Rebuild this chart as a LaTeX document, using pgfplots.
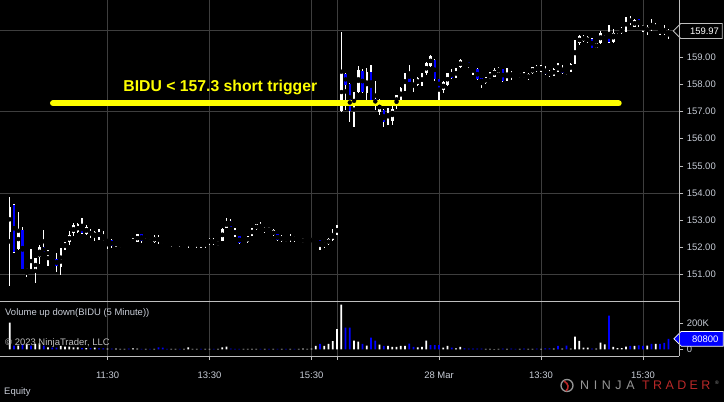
\documentclass[border=0pt]{standalone}
\usepackage{pgfplots}
\pgfplotsset{compat=1.18}
\usepackage{pgfplotstable}
\usepackage{fontspec}
\setmainfont{Liberation Sans}
\usetikzlibrary{shapes.symbols}

\definecolor{ntblue}{RGB}{0,0,255}
\definecolor{ntgrid}{RGB}{62,62,62}
\definecolor{ntaxis}{RGB}{190,190,190}
\definecolor{nttext}{RGB}{200,205,215}
\definecolor{ntyellow}{RGB}{255,255,0}
\definecolor{ntred}{RGB}{185,40,40}
\definecolor{ntgray}{RGB}{150,150,150}

% BIDU 5-minute bars, two sessions (bar index k, open high low close)
\pgfplotstableread{
k o h l c
0 152.57 153.86 150.57 153.49
1 153.56 153.60 151.80 151.84
2 151.93 153.31 151.90 152.67
3 152.63 152.76 151.18 151.20
4 151.10 151.22 150.90 151.22
5 151.16 151.92 151.06 151.08
6 151.10 151.59 150.67 151.59
7 151.65 152.08 151.38 152.02
8 152.00 152.63 151.81 151.83
9 151.71 151.90 151.30 151.86
10 151.70 151.71 151.62 151.65
11 151.55 151.80 151.10 151.31
12 151.28 151.96 150.98 151.96
13 151.99 152.20 151.90 152.17
14 152.20 152.58 152.08 152.45
15 152.51 152.88 152.41 152.82
16 152.57 152.90 152.51 152.84
17 152.82 153.08 152.50 152.51
18 152.49 152.82 152.45 152.73
19 152.60 152.66 152.35 152.45
20 152.36 152.60 152.24 152.57
21 152.56 152.67 152.27 152.38
22 152.36 152.58 152.23 152.27
23 152.20 152.29 151.93 152.27
24 152.27 152.29 151.99 152.04
25 152.08 152.20 152.02 152.18
26 152.07 152.14 151.96 152.12
27 152.12 152.20 152.10 152.19
28 152.23 152.27 152.12 152.17
29 152.17 152.33 152.14 152.29
30 152.20 152.49 152.18 152.47
31 152.49 152.50 152.14 152.24
32 152.19 152.33 152.18 152.27
33 152.25 152.29 152.14 152.20
34 152.20 152.45 152.14 152.39
35 152.35 152.45 152.12 152.24
36 152.18 152.27 152.12 152.24
37 152.20 152.22 152.11 152.14
38 152.08 152.20 152.02 152.17
39 152.14 152.24 152.08 152.23
40 152.19 152.20 152.02 152.14
41 152.12 152.24 152.08 152.20
42 152.17 152.23 151.99 152.23
43 152.11 152.20 152.08 152.18
44 152.08 152.20 151.99 152.18
45 152.15 152.17 151.99 152.07
46 152.07 152.20 151.99 152.17
47 152.17 152.35 152.08 152.29
48 152.27 152.33 152.07 152.17
49 152.08 152.23 152.04 152.20
50 152.24 152.70 152.23 152.66
51 152.72 153.06 152.72 152.94
52 152.97 153.03 152.73 152.73
53 152.63 152.70 152.39 152.45
54 152.41 152.41 152.12 152.14
55 152.13 152.24 152.12 152.23
56 152.18 152.42 152.17 152.41
57 152.45 152.72 152.41 152.67
58 152.66 152.87 152.63 152.85
59 152.76 152.94 152.63 152.63
60 152.57 152.75 152.53 152.72
61 152.72 152.76 152.55 152.57
62 152.44 152.66 152.41 152.63
63 152.47 152.49 152.23 152.27
64 152.24 152.45 152.20 152.39
65 152.33 152.35 152.20 152.27
66 152.27 152.47 152.20 152.39
67 152.39 152.42 152.20 152.27
68 152.24 152.35 152.20 152.33
69 152.20 152.33 152.17 152.29
70 152.20 152.29 152.17 152.27
71 152.20 152.35 152.18 152.33
72 152.20 152.29 152.18 152.27
73 152.27 152.27 151.90 152.06
74 152.04 152.20 151.99 152.17
75 152.12 152.33 152.08 152.29
76 152.27 152.66 152.24 152.51
77 152.47 152.82 152.45 152.76
78 157.03 159.94 157.00 158.41
79 158.39 158.43 157.06 157.98
80 158.02 158.04 156.63 157.03
81 157.06 157.73 156.42 157.73
82 157.73 158.68 157.70 158.53
83 158.51 158.56 157.70 157.73
84 157.67 158.59 157.43 158.47
85 158.47 158.72 157.43 157.43
86 157.45 158.12 157.06 157.30
87 157.00 157.45 156.87 157.35
88 157.05 157.10 156.42 156.60
89 156.70 157.15 156.50 157.05
90 156.65 157.40 156.50 157.10
91 157.30 157.62 157.10 157.60
92 157.40 157.92 157.40 157.86
93 157.86 158.41 157.77 158.38
94 158.47 158.72 158.10 158.10
95 158.07 158.19 157.73 157.92
96 157.98 158.26 157.95 158.23
97 157.98 158.41 157.95 158.38
98 158.41 158.84 158.35 158.78
99 158.68 159.08 158.66 159.05
100 158.90 158.93 158.14 158.19
101 158.19 158.19 157.43 157.86
102 157.80 158.14 157.70 158.10
103 157.98 158.43 157.95 158.41
104 158.47 158.56 158.20 158.23
105 158.26 158.59 158.23 158.56
106 158.63 158.93 158.60 158.90
107 158.90 158.93 158.78 158.80
108 158.81 158.84 158.59 158.66
109 158.53 158.66 158.35 158.63
110 158.56 158.59 158.16 158.19
111 158.23 158.23 157.88 158.04
112 158.04 158.29 158.02 158.26
113 158.23 158.47 158.19 158.35
114 158.29 158.59 158.27 158.53
115 158.43 158.66 158.41 158.59
116 158.56 158.58 158.10 158.14
117 158.14 158.59 158.14 158.47
118 158.41 158.49 158.16 158.33
119 158.37 158.41 158.28 158.32
120 158.28 158.43 158.22 158.41
121 158.34 158.46 158.22 158.28
122 158.22 158.41 158.16 158.38
123 158.41 158.65 158.38 158.63
124 158.65 158.71 158.47 158.50
125 158.49 158.71 158.47 158.68
126 158.55 158.68 158.34 158.38
127 158.34 158.53 158.26 158.47
128 158.33 158.59 158.31 158.57
129 158.63 158.80 158.47 158.55
130 158.59 158.71 158.38 158.43
131 158.49 158.55 158.34 158.43
132 158.47 158.80 158.47 158.77
133 158.77 159.63 158.75 159.54
134 159.51 159.82 159.45 159.78
135 159.61 159.82 159.57 159.76
136 159.57 159.78 159.51 159.73
137 159.66 159.73 159.33 159.36
138 159.35 159.54 159.33 159.51
139 159.51 159.98 159.49 159.90
140 159.82 159.98 159.80 159.94
141 159.94 160.19 159.54 159.57
142 159.57 160.06 159.54 159.90
143 159.73 159.88 159.70 159.86
144 159.90 160.13 159.86 160.06
145 159.98 160.49 159.94 160.47
146 160.43 160.52 160.19 160.25
147 160.13 160.40 160.10 160.37
148 160.40 160.40 160.13 160.19
149 160.13 160.19 159.94 160.06
150 159.98 160.19 159.82 160.10
151 160.15 160.40 159.98 160.03
152 160.07 160.25 160.03 160.13
153 160.03 160.06 159.82 159.94
154 159.98 160.19 159.82 159.90
155 159.88 160.03 159.66 159.97
}\bidu

% volume per bar, d = 1 for up volume, 0 for down volume
\pgfplotstableread{
k v d
0 205000 1
1 28000 0
2 28000 1
3 38000 0
4 38000 1
5 28000 0
6 41000 1
7 46000 1
8 28000 0
9 15000 1
10 13000 0
11 13000 0
12 26000 1
13 20000 1
14 20000 1
15 15000 1
16 15000 1
17 10000 0
18 10000 1
19 10000 0
20 13000 1
21 8000 0
22 8000 0
23 5000 1
24 5000 0
25 5000 1
26 4000 1
27 4000 1
28 5000 0
29 8000 1
30 5000 1
31 4000 0
32 4000 1
33 4000 0
34 4000 1
35 15000 0
36 12000 0
37 4000 0
38 3000 1
39 4000 1
40 3000 0
41 3000 1
42 15000 1
43 3000 1
44 3000 1
45 4000 0
46 3000 1
47 3000 1
48 4000 0
49 3000 1
50 15000 1
51 20000 1
52 5000 0
53 4000 0
54 4000 0
55 3000 1
56 3000 1
57 3000 1
58 3000 1
59 3000 0
60 3000 1
61 3000 0
62 3000 1
63 4000 0
64 3000 1
65 3000 0
66 3000 1
67 3000 0
68 3000 1
69 6000 1
70 3000 1
71 5000 1
72 26000 1
73 41000 0
74 26000 1
75 41000 1
76 62000 1
77 156000 1
78 343000 1
79 167000 0
80 167000 0
81 67000 1
82 59000 1
83 41000 0
84 28000 1
85 90000 0
86 67000 0
87 36000 1
88 26000 0
89 26000 1
90 18000 1
91 18000 1
92 26000 1
93 26000 1
94 44000 0
95 18000 0
96 15000 1
97 18000 1
98 67000 1
99 33000 0
100 33000 0
101 33000 0
102 13000 1
103 26000 1
104 13000 0
105 8000 1
106 18000 1
107 8000 0
108 6000 0
109 6000 0
110 5000 0
111 5000 0
112 3000 1
113 3000 1
114 2000 1
115 3000 1
116 6000 0
117 3000 1
118 5000 0
119 3000 0
120 4000 1
121 5000 0
122 3000 1
123 3000 1
124 5000 0
125 4000 1
126 8000 0
127 8000 0
128 5000 1
129 26000 0
130 5000 1
131 28000 0
132 5000 1
133 97000 1
134 64000 1
135 13000 1
136 13000 1
137 5000 0
138 5000 1
139 51000 1
140 38000 1
141 259000 0
142 18000 1
143 10000 1
144 10000 1
145 20000 1
146 26000 0
147 26000 1
148 31000 0
149 26000 0
150 28000 1
151 41000 0
152 41000 1
153 41000 0
154 50000 0
155 80800 0
}\vol

\pgfplotsset{
  ntpane/.style={
    scale only axis, width=679.3bp,
    xmin=-2.306, xmax=157.53,
    clip=false,
    axis line style={draw=none},
    xtick={23,47,71,77,101,125,149},
    xmajorgrids,
    grid style={ntgrid, line width=0.8bp},
    tick style={ntaxis, line width=0.6bp},
    major tick length=4bp, tick align=outside,
    ticklabel style={font=\fontsize{9.5}{10}\selectfont, text=nttext},
    /pgf/number format/assume math mode=true,
    ytick pos=right, yticklabel pos=right,
  },
  wick/.style={only marks, mark=none, forget plot,
    error bars/.cd, y dir=both, y explicit, error mark=none,
    error bar style={white, line width=1.15bp, line cap=butt}},
  body/.style={only marks, mark=none, forget plot,
    error bars/.cd, y dir=both, y explicit, error mark=none,
    error bar style={#1, line width=2.6bp, line cap=butt}},
}

\begin{document}
\begin{tikzpicture}[x=1bp,y=1bp]
\fill[black] (0bp,0bp) rectangle (724bp,-402bp);
\useasboundingbox (0bp,0bp) rectangle (724bp,-402bp);

% price pane
\begin{axis}[ntpane, at={(0bp,0bp)}, anchor=north west, height=301.5bp,
  ymin=150.0, ymax=161.112,
  xticklabels={}, xtick style={draw=none},
  ytick={151,152,...,159},
  yticklabel style={/pgf/number format/.cd, fixed, fixed zerofill, precision=2},
  extra y ticks={151,154,157,160}, extra y tick labels={},
  extra y tick style={grid=major, major tick length=0pt},
]
\addplot[wick] table[x=k, y expr={(\thisrow{h}+\thisrow{l})/2},
  y error expr={(\thisrow{h}-\thisrow{l})/2}] {\bidu};
\addplot[body=white] table[x=k,
  y expr={\thisrow{c}>=\thisrow{o} ? (\thisrow{o}+\thisrow{c})/2 : nan},
  y error expr={max(abs(\thisrow{c}-\thisrow{o})/2,0.04)}] {\bidu};
\addplot[body=ntblue] table[x=k,
  y expr={\thisrow{c}<\thisrow{o} ? (\thisrow{o}+\thisrow{c})/2 : nan},
  y error expr={max(abs(\thisrow{c}-\thisrow{o})/2,0.04)}] {\bidu};
% short trigger level
\addplot[ntyellow, line width=6bp, line cap=round] coordinates {(10.16,157.3) (143.27,157.3)};
\node[anchor=base west, inner sep=0, text=ntyellow,
  font=\fontsize{15.8}{16}\selectfont\bfseries] at (axis cs:26.7,157.73) {BIDU < 157.3 short trigger};
% last price marker
\node[signal, signal to=west, anchor=west, fill=black, draw=ntaxis, line width=0.8bp,
  minimum height=15bp, minimum width=49bp, inner sep=1bp, text=white,
  font=\fontsize{9.5}{10}\selectfont] at ([xshift=-6.6bp]axis cs:157.53,159.97) {\hspace{6bp}159.97};
\end{axis}

% volume pane
\begin{axis}[ntpane, at={(0bp,-301.5bp)}, anchor=north west, height=54.5bp,
  ymin=-51538, ymax=367692,
  ytick={0,200000}, yticklabels={0,200K}, scaled y ticks=false,
  xticklabels={11:30,13:30,15:30,,28 Mar,13:30,15:30},
  xtick pos=bottom, xticklabel pos=bottom,
  xticklabel style={yshift=-8bp},
]
\addplot[ybar, bar width=1.8bp, bar shift=0pt, fill=white, draw=none]
  table[x=k, y expr={\thisrow{d}==1 ? \thisrow{v} : nan}] {\vol};
\addplot[ybar, bar width=1.8bp, bar shift=0pt, fill=ntblue, draw=none]
  table[x=k, y expr={\thisrow{d}==0 ? \thisrow{v} : nan}] {\vol};
\node[signal, signal to=west, anchor=west, fill=ntblue, draw=white, line width=0.8bp,
  minimum height=14.7bp, minimum width=49.4bp, inner sep=1bp, text=white,
  font=\fontsize{9.5}{10}\selectfont] at ([xshift=-6bp]axis cs:157.53,80800) {\hspace{6bp}80800};
\end{axis}

% pane frame
\draw[ntaxis, line width=0.8bp] (0bp,-301.5bp) -- (679.3bp,-301.5bp);
\draw[ntaxis, line width=0.8bp] (0bp,-356bp) -- (679.3bp,-356bp);
\draw[ntaxis, line width=0.8bp] (679.3bp,0bp) -- (679.3bp,-356bp);

% pane captions
\node[anchor=west, inner sep=0, text=nttext, font=\fontsize{9.5}{10}\selectfont] at (5bp,-313bp) {Volume up down(BIDU (5 Minute))};
\node[anchor=west, inner sep=0, text=ntaxis, font=\fontsize{9.5}{10}\selectfont] at (5bp,-343bp) {© 2023 NinjaTrader, LLC};
\node[anchor=west, inner sep=0, text=nttext, font=\fontsize{9.5}{10}\selectfont] at (4bp,-392bp) {Equity};

% brand mark
\draw[ntgray, line width=1.3bp] (567bp,-385.5bp) circle (6bp);
\draw[ntred, line width=1.6bp] (564bp,-381bp) .. controls (569bp,-384bp) and (569bp,-388bp) .. (566bp,-391bp);
\node[anchor=base west, inner sep=0, text=ntgray, font=\fontsize{12.5}{13}\selectfont] at (580bp,-389.3bp)
  {N\kern4.6bp I\kern4.6bp N\kern4.6bp J\kern4.6bp A};
\node[anchor=base west, inner sep=0, text=ntred, font=\fontsize{12.5}{13}\selectfont] at (642bp,-389.3bp)
  {T\kern3.4bp R\kern3.4bp A\kern3.4bp D\kern3.4bp E\kern3.4bp R};
\node[anchor=base west, inner sep=0, text=ntgray, font=\fontsize{5}{5}\selectfont] at (715bp,-384bp) {®};
\end{tikzpicture}
\end{document}
